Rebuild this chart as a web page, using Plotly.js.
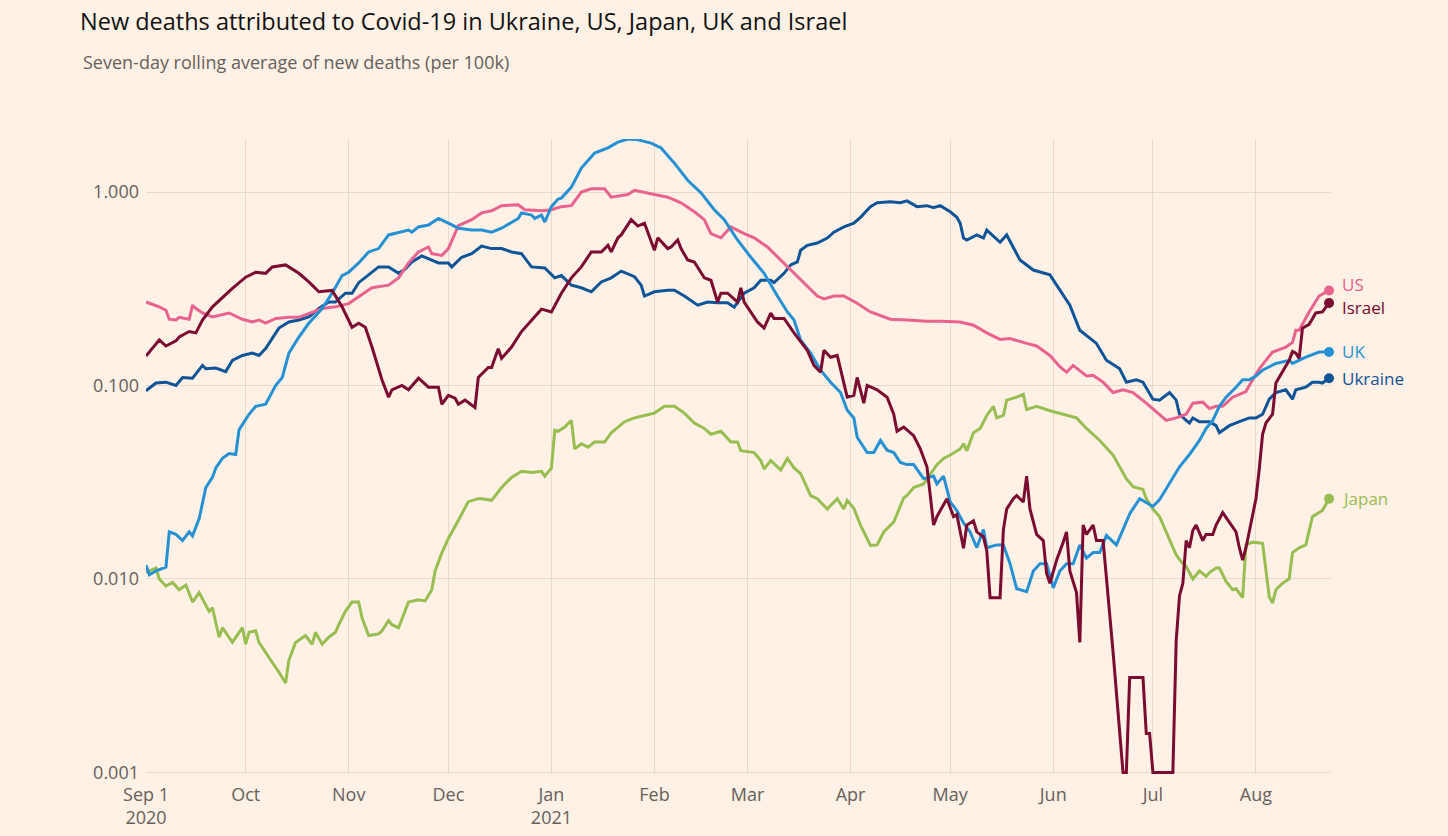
<!DOCTYPE html>
<html>
<head>
<meta charset="utf-8">
<script src="https://cdn.plot.ly/plotly-3.0.1.min.js"></script>
<style>
html, body { margin: 0; padding: 0; background: #fff1e5; }
#chart { width: 1448px; height: 836px; }
</style>
</head>
<body>
<div id="chart"></div>
<script>
// ---------- DATA (seven-day rolling average of new deaths per 100k) ----------
const usDates = ['2020-09-01','2020-09-05','2020-09-07','2020-09-08','2020-09-10','2020-09-11','2020-09-14','2020-09-15','2020-09-16','2020-09-18','2020-09-21','2020-09-26','2020-09-30','2020-10-03','2020-10-05','2020-10-07','2020-10-10','2020-10-14','2020-10-17','2020-10-21','2020-10-24','2020-10-28','2020-11-01','2020-11-03','2020-11-08','2020-11-13','2020-11-16','2020-11-19','2020-11-22','2020-11-25','2020-11-26','2020-11-29','2020-12-01','2020-12-04','2020-12-08','2020-12-11','2020-12-14','2020-12-17','2020-12-22','2020-12-24','2020-12-29','2021-01-01','2021-01-04','2021-01-07','2021-01-10','2021-01-13','2021-01-17','2021-01-19','2021-01-24','2021-01-26','2021-01-31','2021-02-05','2021-02-09','2021-02-13','2021-02-16','2021-02-18','2021-02-21','2021-02-24','2021-02-28','2021-03-03','2021-03-07','2021-03-11','2021-03-15','2021-03-18','2021-03-22','2021-03-24','2021-03-27','2021-03-30','2021-04-03','2021-04-07','2021-04-13','2021-04-18','2021-04-24','2021-04-28','2021-05-04','2021-05-08','2021-05-12','2021-05-16','2021-05-19','2021-05-24','2021-05-27','2021-05-31','2021-06-03','2021-06-05','2021-06-07','2021-06-11','2021-06-13','2021-06-16','2021-06-19','2021-06-22','2021-06-25','2021-06-29','2021-07-03','2021-07-05','2021-07-08','2021-07-11','2021-07-13','2021-07-16','2021-07-18','2021-07-20','2021-07-22','2021-07-25','2021-07-29','2021-07-30','2021-08-02','2021-08-06','2021-08-10','2021-08-12','2021-08-13','2021-08-14','2021-08-17','2021-08-20','2021-08-23'];
const usValues = [0.27,0.255,0.245,0.22,0.218,0.225,0.22,0.26,0.25,0.237,0.226,0.237,0.22,0.213,0.218,0.21,0.222,0.225,0.225,0.24,0.25,0.255,0.265,0.28,0.32,0.33,0.36,0.43,0.49,0.52,0.48,0.47,0.51,0.67,0.72,0.78,0.80,0.85,0.86,0.81,0.80,0.81,0.84,0.85,1.0,1.04,1.04,0.94,0.97,1.02,0.98,0.94,0.88,0.79,0.72,0.61,0.58,0.66,0.61,0.58,0.52,0.445,0.38,0.34,0.29,0.28,0.29,0.29,0.266,0.24,0.22,0.218,0.215,0.215,0.213,0.205,0.187,0.173,0.175,0.165,0.16,0.143,0.125,0.117,0.127,0.112,0.113,0.104,0.092,0.095,0.092,0.081,0.071,0.066,0.068,0.071,0.081,0.082,0.076,0.078,0.078,0.087,0.093,0.1,0.122,0.149,0.158,0.167,0.193,0.193,0.24,0.29,0.31];

const israelDates = ['2020-09-01','2020-09-05','2020-09-07','2020-09-10','2020-09-11','2020-09-14','2020-09-16','2020-09-18','2020-09-21','2020-09-24','2020-09-27','2020-10-01','2020-10-04','2020-10-07','2020-10-09','2020-10-13','2020-10-17','2020-10-20','2020-10-23','2020-10-27','2020-10-30','2020-11-02','2020-11-04','2020-11-06','2020-11-08','2020-11-11','2020-11-13','2020-11-14','2020-11-17','2020-11-19','2020-11-22','2020-11-25','2020-11-28','2020-11-29','2020-12-01','2020-12-03','2020-12-04','2020-12-06','2020-12-09','2020-12-10','2020-12-13','2020-12-14','2020-12-16','2020-12-17','2020-12-20','2020-12-23','2020-12-26','2020-12-29','2021-01-01','2021-01-04','2021-01-07','2021-01-10','2021-01-13','2021-01-16','2021-01-18','2021-01-19','2021-01-21','2021-01-22','2021-01-25','2021-01-27','2021-01-29','2021-02-01','2021-02-02','2021-02-05','2021-02-06','2021-02-08','2021-02-09','2021-02-11','2021-02-13','2021-02-16','2021-02-18','2021-02-20','2021-02-21','2021-02-23','2021-02-26','2021-02-27','2021-02-28','2021-03-03','2021-03-04','2021-03-06','2021-03-08','2021-03-09','2021-03-12','2021-03-15','2021-03-19','2021-03-21','2021-03-23','2021-03-24','2021-03-26','2021-03-28','2021-03-31','2021-04-02','2021-04-03','2021-04-05','2021-04-06','2021-04-09','2021-04-12','2021-04-14','2021-04-15','2021-04-17','2021-04-20','2021-04-22','2021-04-24','2021-04-25','2021-04-26','2021-04-27','2021-04-30','2021-05-02','2021-05-03','2021-05-05','2021-05-06','2021-05-08','2021-05-09','2021-05-11','2021-05-12','2021-05-13','2021-05-16','2021-05-17','2021-05-18','2021-05-20','2021-05-21','2021-05-23','2021-05-24','2021-05-25','2021-05-27','2021-05-29','2021-05-30','2021-05-31','2021-06-02','2021-06-04','2021-06-05','2021-06-06','2021-06-08','2021-06-09','2021-06-10','2021-06-11','2021-06-13','2021-06-14','2021-06-16','2021-06-19','2021-06-22','2021-06-23','2021-06-24','2021-06-28','2021-06-29','2021-06-30','2021-07-01','2021-07-07','2021-07-08','2021-07-09','2021-07-10','2021-07-11','2021-07-12','2021-07-13','2021-07-14','2021-07-16','2021-07-17','2021-07-19','2021-07-20','2021-07-22','2021-07-24','2021-07-26','2021-07-27','2021-07-28','2021-07-29','2021-07-31','2021-08-01','2021-08-02','2021-08-03','2021-08-04','2021-08-06','2021-08-07','2021-08-09','2021-08-11','2021-08-12','2021-08-13','2021-08-14','2021-08-15','2021-08-17','2021-08-19','2021-08-21','2021-08-23'];
const israelValues = [0.142,0.172,0.16,0.17,0.178,0.19,0.187,0.218,0.255,0.286,0.318,0.363,0.385,0.38,0.41,0.42,0.38,0.343,0.305,0.31,0.255,0.2,0.21,0.2,0.158,0.107,0.087,0.095,0.1,0.095,0.109,0.098,0.098,0.08,0.089,0.086,0.08,0.084,0.077,0.11,0.124,0.124,0.155,0.138,0.158,0.19,0.218,0.248,0.24,0.3,0.36,0.41,0.49,0.49,0.53,0.49,0.58,0.6,0.72,0.667,0.69,0.5,0.58,0.51,0.52,0.565,0.51,0.445,0.435,0.36,0.35,0.27,0.3,0.3,0.27,0.32,0.27,0.226,0.213,0.198,0.237,0.222,0.222,0.187,0.152,0.127,0.117,0.152,0.14,0.143,0.087,0.089,0.11,0.081,0.1,0.095,0.087,0.071,0.058,0.061,0.055,0.047,0.038,0.027,0.019,0.021,0.026,0.021,0.0215,0.0144,0.019,0.02,0.0175,0.0165,0.014,0.008,0.008,0.018,0.023,0.026,0.027,0.025,0.034,0.023,0.017,0.0158,0.0107,0.0095,0.0125,0.0155,0.0175,0.011,0.0085,0.0047,0.019,0.017,0.019,0.0158,0.0158,0.0042,0.001,0.001,0.0031,0.0031,0.00159,0.00159,0.001,0.001,0.0048,0.0082,0.0095,0.0158,0.0145,0.0178,0.019,0.0158,0.017,0.017,0.019,0.022,0.0196,0.0175,0.0145,0.0125,0.0145,0.0209,0.026,0.037,0.056,0.064,0.071,0.103,0.117,0.135,0.15,0.147,0.138,0.198,0.207,0.237,0.24,0.267];

const ukDates = ['2020-09-01','2020-09-02','2020-09-04','2020-09-07','2020-09-08','2020-09-10','2020-09-12','2020-09-14','2020-09-15','2020-09-17','2020-09-19','2020-09-21','2020-09-22','2020-09-24','2020-09-26','2020-09-28','2020-09-29','2020-10-02','2020-10-04','2020-10-07','2020-10-10','2020-10-12','2020-10-14','2020-10-17','2020-10-20','2020-10-24','2020-10-27','2020-10-30','2020-11-01','2020-11-04','2020-11-07','2020-11-10','2020-11-13','2020-11-16','2020-11-19','2020-11-20','2020-11-22','2020-11-25','2020-11-28','2020-12-01','2020-12-04','2020-12-08','2020-12-11','2020-12-14','2020-12-17','2020-12-22','2020-12-23','2020-12-26','2020-12-27','2020-12-29','2020-12-30','2021-01-01','2021-01-03','2021-01-04','2021-01-07','2021-01-10','2021-01-14','2021-01-18','2021-01-21','2021-01-24','2021-01-27','2021-01-31','2021-02-03','2021-02-07','2021-02-11','2021-02-15','2021-02-19','2021-02-22','2021-02-26','2021-03-02','2021-03-06','2021-03-10','2021-03-13','2021-03-15','2021-03-17','2021-03-20','2021-03-23','2021-03-26','2021-03-29','2021-03-31','2021-04-02','2021-04-03','2021-04-06','2021-04-08','2021-04-10','2021-04-12','2021-04-14','2021-04-16','2021-04-18','2021-04-20','2021-04-23','2021-04-26','2021-04-27','2021-04-29','2021-05-01','2021-05-03','2021-05-05','2021-05-07','2021-05-09','2021-05-11','2021-05-12','2021-05-15','2021-05-17','2021-05-19','2021-05-21','2021-05-24','2021-05-26','2021-05-28','2021-05-30','2021-06-01','2021-06-03','2021-06-05','2021-06-07','2021-06-09','2021-06-11','2021-06-13','2021-06-15','2021-06-17','2021-06-20','2021-06-22','2021-06-24','2021-06-27','2021-07-01','2021-07-03','2021-07-06','2021-07-09','2021-07-12','2021-07-15','2021-07-17','2021-07-19','2021-07-21','2021-07-23','2021-07-26','2021-07-28','2021-07-30','2021-08-01','2021-08-03','2021-08-07','2021-08-11','2021-08-12','2021-08-16','2021-08-20','2021-08-23'];
const ukValues = [0.0118,0.0105,0.011,0.0115,0.0175,0.017,0.0158,0.0175,0.0167,0.0205,0.0297,0.0335,0.0375,0.042,0.0445,0.044,0.059,0.071,0.078,0.08,0.1,0.11,0.147,0.178,0.21,0.25,0.3,0.37,0.385,0.43,0.49,0.51,0.6,0.62,0.636,0.62,0.66,0.675,0.73,0.69,0.65,0.636,0.636,0.62,0.65,0.73,0.78,0.76,0.73,0.76,0.7,0.84,0.92,0.93,1.06,1.33,1.59,1.69,1.81,1.88,1.86,1.79,1.69,1.41,1.15,0.99,0.81,0.72,0.565,0.46,0.38,0.29,0.24,0.218,0.1715,0.147,0.12,0.104,0.092,0.0745,0.068,0.054,0.045,0.045,0.052,0.0463,0.045,0.04,0.039,0.039,0.033,0.034,0.031,0.034,0.025,0.0226,0.0195,0.0175,0.0145,0.018,0.0145,0.015,0.015,0.012,0.0089,0.0086,0.011,0.012,0.012,0.009,0.011,0.012,0.012,0.015,0.0128,0.0137,0.0137,0.0168,0.015,0.018,0.0217,0.026,0.0237,0.0257,0.031,0.038,0.044,0.052,0.06,0.066,0.078,0.087,0.098,0.107,0.107,0.112,0.12,0.13,0.135,0.13,0.14,0.149,0.149];

const ukraineDates = ['2020-09-01','2020-09-04','2020-09-07','2020-09-10','2020-09-12','2020-09-15','2020-09-18','2020-09-19','2020-09-22','2020-09-25','2020-09-27','2020-09-30','2020-10-03','2020-10-05','2020-10-07','2020-10-09','2020-10-11','2020-10-14','2020-10-17','2020-10-20','2020-10-23','2020-10-26','2020-10-28','2020-10-31','2020-11-02','2020-11-04','2020-11-07','2020-11-10','2020-11-13','2020-11-16','2020-11-18','2020-11-20','2020-11-23','2020-11-28','2020-12-01','2020-12-02','2020-12-05','2020-12-08','2020-12-11','2020-12-14','2020-12-17','2020-12-20','2020-12-23','2020-12-26','2020-12-30','2021-01-02','2021-01-04','2021-01-07','2021-01-10','2021-01-13','2021-01-16','2021-01-19','2021-01-22','2021-01-24','2021-01-26','2021-01-28','2021-01-29','2021-02-01','2021-02-05','2021-02-07','2021-02-10','2021-02-14','2021-02-17','2021-02-20','2021-02-23','2021-02-25','2021-02-28','2021-03-03','2021-03-05','2021-03-08','2021-03-09','2021-03-12','2021-03-14','2021-03-16','2021-03-17','2021-03-19','2021-03-22','2021-03-25','2021-03-27','2021-03-30','2021-04-02','2021-04-04','2021-04-07','2021-04-09','2021-04-13','2021-04-16','2021-04-18','2021-04-21','2021-04-24','2021-04-26','2021-04-28','2021-05-01','2021-05-03','2021-05-04','2021-05-05','2021-05-06','2021-05-09','2021-05-11','2021-05-12','2021-05-16','2021-05-18','2021-05-22','2021-05-26','2021-05-31','2021-06-02','2021-06-06','2021-06-09','2021-06-14','2021-06-17','2021-06-21','2021-06-23','2021-06-26','2021-06-28','2021-07-01','2021-07-03','2021-07-06','2021-07-08','2021-07-09','2021-07-11','2021-07-12','2021-07-13','2021-07-15','2021-07-18','2021-07-20','2021-07-21','2021-07-24','2021-07-27','2021-07-30','2021-08-01','2021-08-03','2021-08-05','2021-08-07','2021-08-10','2021-08-12','2021-08-13','2021-08-16','2021-08-18','2021-08-20','2021-08-21','2021-08-23'];
const ukraineValues = [0.094,0.103,0.104,0.1,0.11,0.109,0.127,0.122,0.123,0.118,0.135,0.143,0.147,0.143,0.155,0.175,0.198,0.213,0.218,0.226,0.25,0.27,0.27,0.3,0.3,0.34,0.373,0.41,0.41,0.38,0.40,0.435,0.467,0.43,0.43,0.41,0.46,0.48,0.525,0.51,0.51,0.49,0.48,0.41,0.405,0.36,0.37,0.33,0.32,0.305,0.343,0.36,0.39,0.377,0.365,0.33,0.29,0.305,0.311,0.311,0.29,0.26,0.27,0.268,0.268,0.254,0.3,0.32,0.35,0.35,0.34,0.38,0.42,0.435,0.5,0.53,0.545,0.578,0.62,0.66,0.69,0.74,0.84,0.88,0.89,0.88,0.9,0.84,0.85,0.83,0.85,0.79,0.74,0.69,0.578,0.565,0.6,0.578,0.636,0.55,0.6,0.445,0.395,0.373,0.33,0.26,0.193,0.165,0.135,0.122,0.104,0.107,0.104,0.085,0.084,0.092,0.084,0.071,0.066,0.064,0.068,0.065,0.065,0.062,0.057,0.062,0.065,0.068,0.068,0.071,0.085,0.092,0.095,0.085,0.095,0.098,0.104,0.104,0.103,0.109];

const japanDates = ['2020-09-01','2020-09-04','2020-09-05','2020-09-07','2020-09-09','2020-09-11','2020-09-13','2020-09-15','2020-09-17','2020-09-20','2020-09-21','2020-09-23','2020-09-24','2020-09-27','2020-09-30','2020-10-01','2020-10-02','2020-10-04','2020-10-05','2020-10-07','2020-10-09','2020-10-11','2020-10-13','2020-10-14','2020-10-16','2020-10-19','2020-10-21','2020-10-22','2020-10-24','2020-10-26','2020-10-28','2020-10-29','2020-10-31','2020-11-02','2020-11-04','2020-11-05','2020-11-07','2020-11-10','2020-11-11','2020-11-13','2020-11-14','2020-11-16','2020-11-19','2020-11-22','2020-11-24','2020-11-26','2020-11-27','2020-11-29','2020-12-01','2020-12-04','2020-12-07','2020-12-10','2020-12-11','2020-12-14','2020-12-16','2020-12-17','2020-12-20','2020-12-23','2020-12-26','2020-12-29','2020-12-30','2021-01-01','2021-01-02','2021-01-03','2021-01-05','2021-01-07','2021-01-08','2021-01-10','2021-01-12','2021-01-14','2021-01-17','2021-01-19','2021-01-23','2021-01-26','2021-01-29','2021-02-01','2021-02-04','2021-02-07','2021-02-10','2021-02-13','2021-02-16','2021-02-18','2021-02-21','2021-02-24','2021-02-26','2021-02-27','2021-03-03','2021-03-05','2021-03-06','2021-03-08','2021-03-11','2021-03-13','2021-03-15','2021-03-17','2021-03-20','2021-03-22','2021-03-25','2021-03-28','2021-03-30','2021-03-31','2021-04-02','2021-04-04','2021-04-07','2021-04-09','2021-04-11','2021-04-14','2021-04-17','2021-04-18','2021-04-20','2021-04-23','2021-04-27','2021-04-29','2021-05-01','2021-05-04','2021-05-05','2021-05-06','2021-05-08','2021-05-10','2021-05-12','2021-05-14','2021-05-15','2021-05-17','2021-05-18','2021-05-21','2021-05-23','2021-05-24','2021-05-27','2021-05-31','2021-06-04','2021-06-08','2021-06-11','2021-06-15','2021-06-19','2021-06-23','2021-06-25','2021-06-28','2021-06-29','2021-07-01','2021-07-03','2021-07-05','2021-07-08','2021-07-10','2021-07-11','2021-07-13','2021-07-15','2021-07-17','2021-07-18','2021-07-20','2021-07-21','2021-07-23','2021-07-25','2021-07-26','2021-07-28','2021-07-29','2021-07-31','2021-08-03','2021-08-04','2021-08-05','2021-08-06','2021-08-07','2021-08-09','2021-08-11','2021-08-12','2021-08-14','2021-08-16','2021-08-17','2021-08-18','2021-08-21','2021-08-23'];
const japanValues = [0.0108,0.0114,0.01,0.0092,0.0096,0.0088,0.0093,0.0076,0.0085,0.0068,0.0071,0.005,0.0056,0.0047,0.0056,0.0046,0.0053,0.0054,0.0047,0.0042,0.0037,0.0033,0.0029,0.0038,0.0047,0.0051,0.0046,0.0053,0.0046,0.005,0.0053,0.0058,0.0068,0.0076,0.0076,0.0063,0.0051,0.0052,0.0054,0.0061,0.0058,0.0056,0.0076,0.0078,0.0077,0.0088,0.011,0.0136,0.0162,0.0201,0.0251,0.026,0.026,0.0255,0.028,0.0297,0.0335,0.036,0.0355,0.036,0.034,0.0375,0.0587,0.058,0.061,0.066,0.047,0.05,0.048,0.051,0.051,0.057,0.065,0.068,0.07,0.072,0.078,0.078,0.072,0.064,0.06,0.056,0.058,0.051,0.051,0.046,0.045,0.041,0.037,0.041,0.0365,0.042,0.0375,0.035,0.027,0.026,0.023,0.026,0.023,0.0255,0.0232,0.019,0.0149,0.015,0.0175,0.0197,0.0262,0.027,0.0297,0.031,0.039,0.042,0.0437,0.047,0.05,0.046,0.057,0.06,0.07,0.078,0.068,0.07,0.084,0.087,0.09,0.075,0.078,0.074,0.071,0.068,0.06,0.052,0.0437,0.033,0.03,0.029,0.026,0.023,0.021,0.0175,0.0133,0.012,0.0116,0.01,0.011,0.0103,0.0108,0.0114,0.0114,0.0097,0.0088,0.0089,0.008,0.015,0.0155,0.0153,0.0107,0.0081,0.0075,0.0088,0.0095,0.01,0.0137,0.0145,0.015,0.018,0.021,0.0226,0.026];

const seriesNames = ['Japan', 'Ukraine', 'US', 'UK', 'Israel'];
const seriesDates = [japanDates, ukraineDates, usDates, ukDates, israelDates];
const seriesValues = [japanValues, ukraineValues, usValues, ukValues, israelValues];

const monthTicks = ['2020-09-01','2020-10-01','2020-11-01','2020-12-01','2021-01-01','2021-02-01','2021-03-01','2021-04-01','2021-05-01','2021-06-01','2021-07-01','2021-08-01'];
const monthLabels = ['Sep 1<br>2020','Oct','Nov','Dec','Jan<br>2021','Feb','Mar','Apr','May','Jun','Jul','Aug'];
const yTicks = [0.001, 0.01, 0.1, 1];
const yLabels = ['0.001', '0.010', '0.100', '1.000'];

// ---------- STYLE ----------
const colors = { Japan: '#98bd50', Ukraine: '#0f5499', US: '#e9638e', UK: '#2591d4', Israel: '#7b0b31' };
const labelShift = { Japan: 0, Ukraine: 0, US: 6, UK: 0, Israel: -5 };
const FONT = '"Open Sans", Roboto, "DejaVu Sans", sans-serif';
const GRID = '#e6d9ce';
const TEXT = '#66605c';

const traces = [];
const annotations = [];
seriesNames.forEach((name, i) => {
  const xs = seriesDates[i], ys = seriesValues[i];
  traces.push({
    type: 'scatter', mode: 'lines', name: name, x: xs, y: ys,
    line: { color: colors[name], width: 3, shape: 'linear' },
    hoverinfo: 'x+y+name'
  });
  const lx = xs[xs.length - 1], ly = ys[ys.length - 1];
  traces.push({
    type: 'scatter', mode: 'markers', x: [lx], y: [ly], showlegend: false,
    marker: { color: colors[name], size: 10 }, cliponaxis: false, hoverinfo: 'skip'
  });
  annotations.push({
    x: lx, y: Math.log10(ly), xref: 'x', yref: 'y', text: name, showarrow: false,
    xanchor: 'left', yanchor: 'middle', xshift: 11, yshift: labelShift[name],
    font: { family: FONT, size: 17, color: colors[name] }
  });
});

annotations.push({
  xref: 'paper', yref: 'paper', x: (81 - 146) / 1185, y: 1 + (139 - 62) / 635,
  xanchor: 'left', yanchor: 'middle', showarrow: false,
  text: 'Seven-day rolling average of new deaths (per 100k)',
  font: { family: FONT, size: 18, color: TEXT }
});

const layout = {
  width: 1448, height: 836,
  paper_bgcolor: '#fff1e5', plot_bgcolor: '#fff1e5',
  margin: { l: 146, r: 117, t: 139, b: 62, pad: 0 },
  showlegend: false,
  title: {
    text: 'New deaths attributed to Covid-19 in Ukraine, US, Japan, UK and Israel',
    xref: 'container', yref: 'container', x: 80 / 1448, xanchor: 'left',
    y: 1 - 22 / 836, yanchor: 'middle',
    font: { family: FONT, size: 23.5, color: '#111111' }
  },
  xaxis: {
    type: 'date', range: ['2020-09-01', '2021-08-23 14:00'],
    tickmode: 'array', tickvals: monthTicks, ticktext: monthLabels,
    showgrid: true, gridcolor: GRID, gridwidth: 1,
    zeroline: false, showline: false, ticks: '',
    tickfont: { family: FONT, size: 18, color: TEXT },
    ticklabelstandoff: 8
  },
  yaxis: {
    type: 'log', range: [-3.008, 0.274],
    tickmode: 'array', tickvals: yTicks, ticktext: yLabels,
    showgrid: true, gridcolor: GRID, gridwidth: 1,
    zeroline: false, showline: false, ticks: '',
    tickfont: { family: FONT, size: 18, color: TEXT },
    ticklabelstandoff: 6
  },
  annotations: annotations,
  hovermode: 'closest'
};

Plotly.newPlot('chart', traces, layout, { displayModeBar: false, responsive: false });
</script>
</body>
</html>
